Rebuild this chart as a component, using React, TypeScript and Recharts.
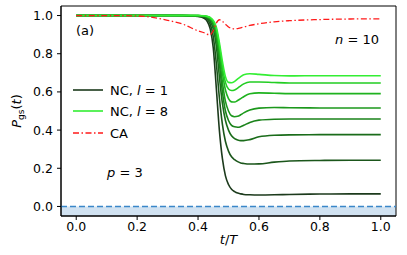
import { LineChart, Line, XAxis, YAxis, ReferenceLine, ReferenceArea } from 'recharts';

const ts = [0, 0.1, 0.2, 0.3, 0.35, 0.4, 0.42, 0.43, 0.44, 0.45, 0.46, 0.47, 0.48, 0.49, 0.5, 0.51, 0.52, 0.53, 0.54, 0.55, 0.57, 0.6, 0.65, 0.7, 0.8, 0.9, 1.0];

const nc1 = [1, 1, 1, 1, 0.999, 0.995, 0.985, 0.97, 0.93, 0.83, 0.62, 0.4, 0.25, 0.16, 0.115, 0.09, 0.078, 0.07, 0.066, 0.063, 0.061, 0.06, 0.061, 0.063, 0.065, 0.066, 0.066];
const nc2 = [1, 1, 1, 1, 1, 0.997, 0.99, 0.98, 0.955, 0.89, 0.75, 0.57, 0.43, 0.34, 0.29, 0.26, 0.245, 0.235, 0.228, 0.225, 0.222, 0.223, 0.232, 0.238, 0.241, 0.242, 0.242];
const nc3 = [1, 1, 1, 1, 1, 0.998, 0.993, 0.985, 0.97, 0.93, 0.84, 0.68, 0.54, 0.45, 0.4, 0.37, 0.355, 0.348, 0.345, 0.345, 0.35, 0.365, 0.373, 0.375, 0.376, 0.376, 0.376];
const nc4 = [1, 1, 1, 1, 1, 0.999, 0.995, 0.99, 0.978, 0.95, 0.88, 0.75, 0.6, 0.5, 0.45, 0.425, 0.417, 0.415, 0.418, 0.425, 0.44, 0.452, 0.457, 0.458, 0.458, 0.458, 0.458];
const nc5 = [1, 1, 1, 1, 1, 1, 0.997, 0.992, 0.982, 0.96, 0.9, 0.79, 0.65, 0.55, 0.5, 0.475, 0.47, 0.472, 0.48, 0.49, 0.505, 0.515, 0.518, 0.517, 0.516, 0.516, 0.516];
const nc6 = [1, 1, 1, 1, 1, 1, 0.998, 0.994, 0.985, 0.965, 0.92, 0.82, 0.7, 0.61, 0.565, 0.548, 0.547, 0.555, 0.565, 0.575, 0.59, 0.595, 0.593, 0.591, 0.591, 0.591, 0.591];
const nc7 = [1, 1, 1, 1, 1, 1, 0.998, 0.995, 0.988, 0.97, 0.93, 0.84, 0.73, 0.65, 0.615, 0.607, 0.61, 0.62, 0.632, 0.642, 0.652, 0.652, 0.649, 0.647, 0.647, 0.647, 0.647];
const nc8 = [1, 1, 1, 1, 1, 1, 0.999, 0.996, 0.99, 0.975, 0.94, 0.86, 0.76, 0.68, 0.65, 0.648, 0.655, 0.668, 0.68, 0.69, 0.695, 0.692, 0.686, 0.684, 0.685, 0.685, 0.685];
const ca = [1, 1, 0.998, 0.975, 0.955, 0.92, 0.91, 0.902, 0.9, 0.92, 0.96, 0.978, 0.97, 0.955, 0.94, 0.933, 0.93, 0.932, 0.936, 0.94, 0.948, 0.957, 0.967, 0.973, 0.979, 0.982, 0.983];

const ncSeries = [nc1, nc2, nc3, nc4, nc5, nc6, nc7, nc8];
const ncColors = ['#1c3a1c', '#1b561b', '#1a6c1a', '#1a821a', '#1c981c', '#1fb21f', '#22cd22', '#33ee33'];
const ticks = [0, 0.2, 0.4, 0.6, 0.8, 1.0];

const data = ts.map((t, i) => {
  const row: Record<string, number> = { t, ca: ca[i] };
  ncSeries.forEach((s, k) => (row['nc' + (k + 1)] = s[i]));
  return row;
});

const font = 'DejaVu Sans, sans-serif';
const tickStyle = { fontSize: 12.5, fill: '#000', fontFamily: font };

export default function App() {
  return (
    <div style={{ position: 'absolute', left: 0, top: 0, width: 407, height: 255, background: '#fff' }}>
      <LineChart width={407} height={255} data={data} margin={{ top: 6, right: 11, bottom: 0, left: 0 }}>
        <XAxis dataKey="t" type="number" domain={[-0.05, 1.05]} ticks={ticks} allowDataOverflow
          tickFormatter={(v: number) => v.toFixed(1)} tick={tickStyle} height={39}
          stroke="#000" tickSize={4} tickMargin={2} />
        <YAxis type="number" domain={[-0.05, 1.05]} ticks={ticks} allowDataOverflow
          tickFormatter={(v: number) => v.toFixed(1)} tick={tickStyle} width={61}
          stroke="#000" tickSize={4} tickMargin={4} />
        <ReferenceArea y1={-0.05} y2={0} fill="#c6dbee" fillOpacity={0.8} stroke="none" ifOverflow="hidden" />
        <ReferenceLine y={0} stroke="#3a87c9" strokeWidth={1.4} strokeDasharray="6 3" />
        {ncSeries.map((_, k) => (
          <Line key={k} type="monotone" dataKey={'nc' + (k + 1)} stroke={ncColors[k]} strokeWidth={1.6}
            dot={false} isAnimationActive={false} />
        ))}
        <Line type="monotone" dataKey="ca" stroke="#ff1a1a" strokeWidth={1.3} strokeDasharray="6 2.5 1.5 2.5"
          dot={false} isAnimationActive={false} />
        <ReferenceArea x1={-0.05} x2={1.05} y1={-0.05} y2={1.05} fill="none" stroke="#000" strokeWidth={1} />
      </LineChart>
      <svg width={407} height={255} style={{ position: 'absolute', left: 0, top: 0, pointerEvents: 'none' }}
        fontFamily={font}>
        <text x={76} y={35} fontSize={13}>(a)</text>
        <text x={335} y={44} fontSize={13}><tspan fontStyle="italic">n</tspan> = 10</text>
        <text x={107} y={177} fontSize={13}><tspan fontStyle="italic">p</tspan> = 3</text>
        <line x1={73} x2={103} y1={90} y2={90} stroke={ncColors[0]} strokeWidth={1.6} />
        <text x={110} y={94.5} fontSize={13}>NC, <tspan fontStyle="italic">l</tspan> = 1</text>
        <line x1={73} x2={103} y1={111} y2={111} stroke={ncColors[7]} strokeWidth={1.6} />
        <text x={110} y={115.5} fontSize={13}>NC, <tspan fontStyle="italic">l</tspan> = 8</text>
        <line x1={73} x2={103} y1={133} y2={133} stroke="#ff1a1a" strokeWidth={1.3} strokeDasharray="6 2.5 1.5 2.5" />
        <text x={110} y={137.5} fontSize={13}>CA</text>
        <text x={228.5} y={244} fontSize={13} textAnchor="middle"><tspan fontStyle="italic">t</tspan>/<tspan fontStyle="italic">T</tspan></text>
        <text transform="translate(21,111) rotate(-90)" fontSize={13} textAnchor="middle">
          <tspan fontStyle="italic">P</tspan><tspan fontSize={9} dy={3}>gs</tspan><tspan dy={-3}>(</tspan><tspan fontStyle="italic">t</tspan>)
        </text>
      </svg>
    </div>
  );
}
